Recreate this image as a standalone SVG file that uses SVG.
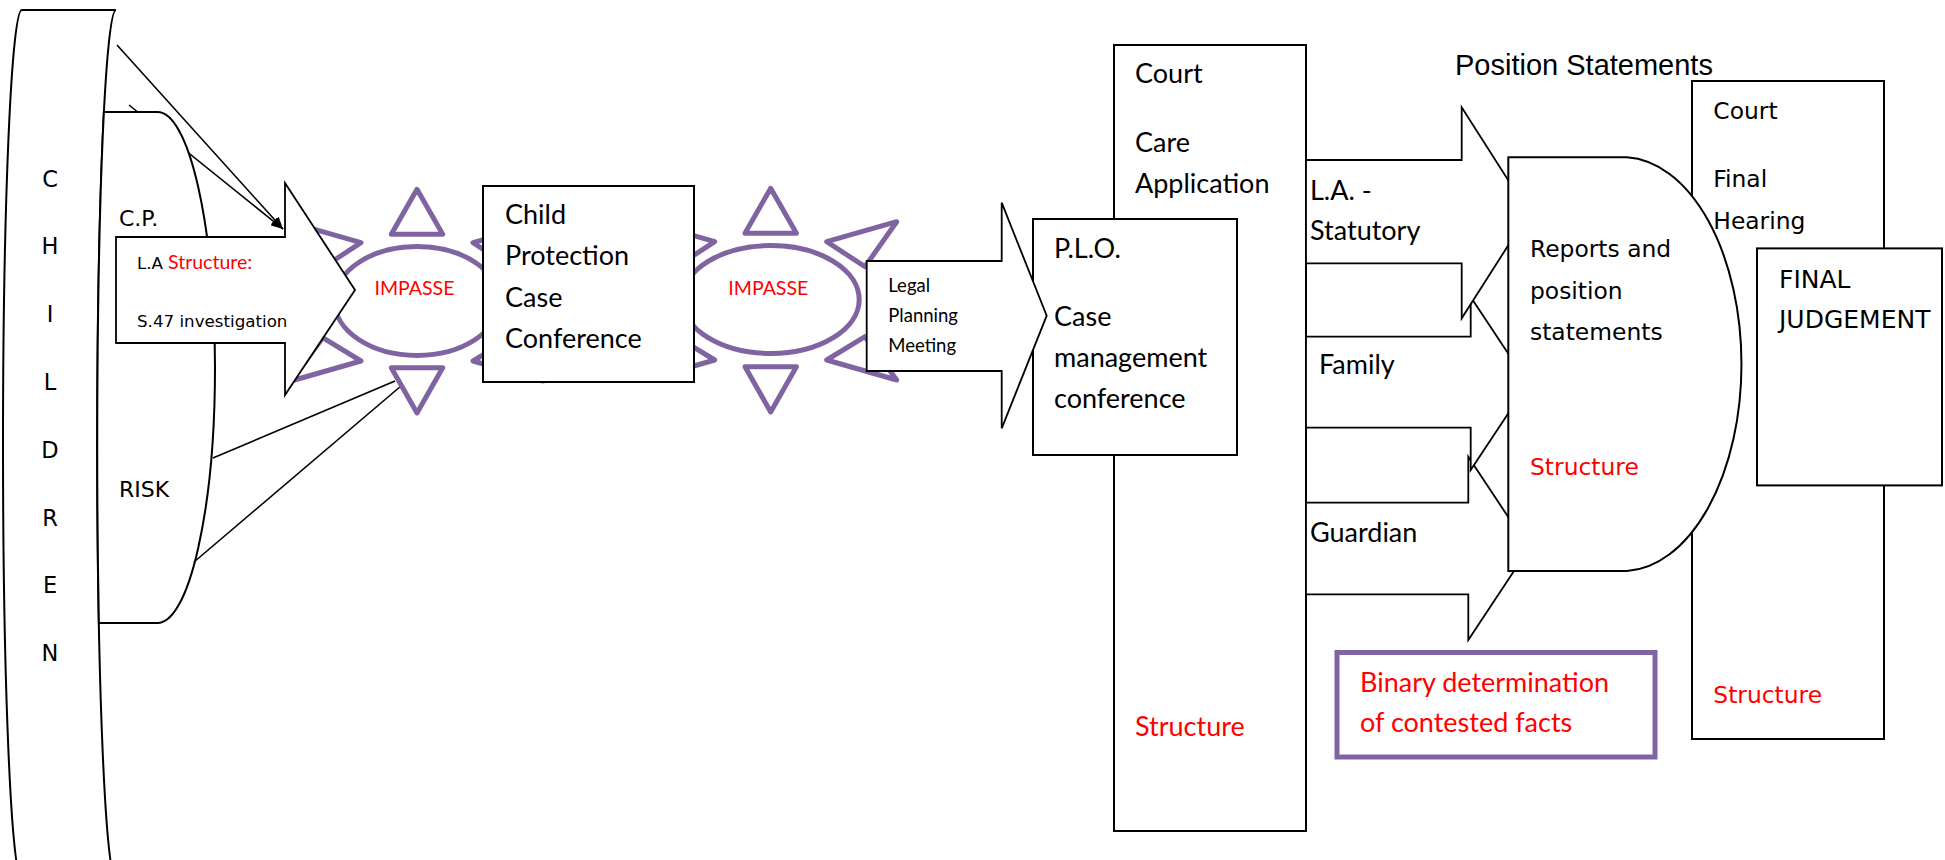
<svg xmlns="http://www.w3.org/2000/svg" width="1945" height="860" viewBox="0 0 1945 860">
<style>
.ln{fill:#fff;stroke:#000;stroke-width:2}
.thin{fill:#fff;stroke:#000;stroke-width:1.8}
.con{fill:none;stroke:#000;stroke-width:1.6}
.sun{fill:#fff;stroke:#8064A2;stroke-width:5;stroke-linejoin:round}
.cal{font-family:Lato,"Liberation Sans",sans-serif;fill:#000}
.tah{font-family:"DejaVu Sans","Liberation Sans",sans-serif;fill:#000}
.ari{font-family:"Liberation Sans",Arial,sans-serif;fill:#000}
.red{fill:#FF0000}
.c29{font-size:27px}
</style>
<defs>
<marker id="ah" markerUnits="userSpaceOnUse" markerWidth="12" markerHeight="10" refX="12" refY="5" orient="auto">
<path d="M0,0 L12,5 L0,10 z" fill="#000"/>
</marker>
</defs>
<rect width="1945" height="860" fill="#fff"/>

<g id="children">
<path class="ln" d="M21.8 10 L116 10 A18.8 435 0 0 0 116 880 L21.8 880 A18.8 435 0 0 1 21.8 10 Z"/>
<g class="tah" font-size="22.5" text-anchor="middle">
<text x="50" y="186.5">C</text>
<text x="50" y="254.3">H</text>
<text x="50" y="322.1">I</text>
<text x="50" y="389.9">L</text>
<text x="50" y="457.7">D</text>
<text x="50" y="525.5">R</text>
<text x="50" y="593.3">E</text>
<text x="50" y="661.1">N</text>
</g>
</g>

<g id="connectors-back">
<line class="con" x1="129" y1="105" x2="283" y2="229" marker-end="url(#ah)"/>
</g>

<g id="cp-risk">
<path class="ln" d="M103.9 112 L157.5 112 A57.5 255.5 0 0 1 157.5 623 L98.9 623 A18.8 435 0 0 1 103.9 112 Z"/>
<text class="tah" font-size="22" x="119" y="226">C.P.</text>
<text class="tah" font-size="22" x="119" y="497">RISK</text>
</g>

<g id="connectors">
<line class="con" x1="117" y1="45" x2="283" y2="229" marker-end="url(#ah)"/>
<line class="con" x1="213" y1="458" x2="395" y2="381"/>
<line class="con" x1="194" y1="562" x2="401" y2="386"/>
</g>

<g id="impasse-1">
<path class="sun" d="M391.3 234.3 L417 189.3 L442.7 234.3 Z M391.3 367.7 L417 413 L442.7 367.7 Z M473 242.7 L543 222.7 L511.3 267.7 Z M473 361 L543 381 L511.3 337.7 Z M361 242.7 L291 222.7 L322.7 267.7 Z M361 361 L291 381 L322.7 337.7 Z"/>
<ellipse class="sun" cx="417" cy="301" rx="82.5" ry="54.5"/>
<text class="cal red" font-size="19.5" x="414.5" y="295" text-anchor="middle">IMPASSE</text>
</g>

<g id="la-arrow">
<polygon class="thin" points="116,237 285,237 285,183 355,290 285,395 285,343 116,343"/>
<text class="tah" font-size="16.7" x="137" y="268.5">L.A</text>
<text class="cal red" font-size="19.5" x="168" y="268.5">Structure:</text>
<text class="tah" font-size="16.7" x="137" y="327">S.47 investigation</text>
</g>

<g id="impasse-2">
<path class="sun" d="M745 233.3 L770.7 188.3 L796.4 233.3 Z M745 366.7 L770.7 412 L796.4 366.7 Z M826.7 241.7 L896.7 221.7 L865 266.7 Z M826.7 360 L896.7 380 L865 336.7 Z M714.7 241.7 L644.7 221.7 L676.4 266.7 Z M714.7 360 L644.7 380 L676.4 336.7 Z"/>
<ellipse class="sun" cx="770.7" cy="299.5" rx="88.5" ry="54"/>
<text class="cal red" font-size="19.5" x="768.3" y="295" text-anchor="middle">IMPASSE</text>
</g>

<g id="cp-conference">
<rect class="ln" x="483" y="186" width="211" height="196"/>
<g class="cal c29">
<text x="505" y="224">Child</text>
<text x="505" y="265">Protection</text>
<text x="505" y="306.7">Case</text>
<text x="505" y="348">Conference</text>
</g>
</g>

<g id="court-care">
<rect class="ln" x="1114" y="45" width="192" height="786"/>
<g class="cal c29">
<text x="1135" y="83.3">Court</text>
<text x="1135" y="151.7">Care</text>
<text x="1135" y="192.7">Application</text>
<text class="red" x="1135" y="736">Structure</text>
</g>
</g>

<g id="plo">
<rect class="ln" x="1033" y="219" width="204" height="236"/>
<g class="cal c29">
<text x="1054" y="258.3">P.L.O.</text>
<text x="1054" y="325.7">Case</text>
<text x="1054" y="366.7">management</text>
<text x="1054" y="407.7">conference</text>
</g>
</g>

<g id="legal-planning">
<polygon class="thin" points="866.7,261 1001.7,261 1001.7,202.7 1046.7,315.7 1001.7,428.3 1001.7,371 866.7,371"/>
<g class="cal" font-size="18.5">
<text x="888.3" y="291.7">Legal</text>
<text x="888.3" y="321.7">Planning</text>
<text x="888.3" y="351.7">Meeting</text>
</g>
</g>

<g id="guardian-arrow">
<polygon class="thin" points="1306,502.7 1468.3,502.7 1468.3,456.7 1529,548.3 1468.3,640 1468.3,594.3 1306,594.3"/>
<text class="cal c29" x="1310" y="541.7">Guardian</text>
</g>
<g id="family-arrow">
<polygon class="thin" points="1306,336.7 1470.7,336.7 1470.7,297 1528,383.5 1470.7,470 1470.7,427.7 1306,427.7"/>
<text class="cal c29" x="1319" y="374">Family</text>
</g>
<g id="la-statutory-arrow">
<polygon class="thin" points="1306,160 1461.7,160 1461.7,107.3 1529,212.8 1461.7,318.3 1461.7,263.3 1306,263.3"/>
<text class="cal c29" x="1310" y="200">L.A. -</text>
<text class="cal c29" x="1310" y="239.5">Statutory</text>
</g>

<g id="final-hearing">
<rect class="ln" x="1692" y="81" width="192" height="658"/>
</g>

<g id="reports">
<path class="ln" d="M1508.3 157.3 L1627 157.3 A119 207 0 0 1 1627 571 L1508.3 571 Z"/>
<g class="tah" font-size="23.4">
<text x="1530" y="257.3">Reports and</text>
<text x="1530" y="298.8">position</text>
<text x="1530" y="340.4">statements</text>
<text class="red" x="1530" y="475">Structure</text>
</g>
</g>

<g id="final-hearing-text" class="tah" font-size="23.4">
<text x="1713.3" y="119.4">Court</text>
<text x="1713.3" y="187">Final</text>
<text x="1713.3" y="228.8">Hearing</text>
<text class="red" x="1713.3" y="703">Structure</text>
</g>

<g id="final-judgement">
<rect class="ln" x="1757" y="248.4" width="185" height="237"/>
<g class="tah" font-size="25">
<text x="1779" y="287.7">FINAL</text>
<text x="1779" y="327.9">JUDGEMENT</text>
</g>
</g>

<g id="binary">
<rect x="1337" y="652.5" width="318" height="104.5" fill="#fff" stroke="#8064A2" stroke-width="5"/>
<g class="cal c29 red">
<text x="1360" y="691.7">Binary determination</text>
<text x="1360" y="731.7">of contested facts</text>
</g>
</g>

<g id="position-statements">
<text class="ari" font-size="29" x="1455" y="75">Position Statements</text>
</g>
</svg>
